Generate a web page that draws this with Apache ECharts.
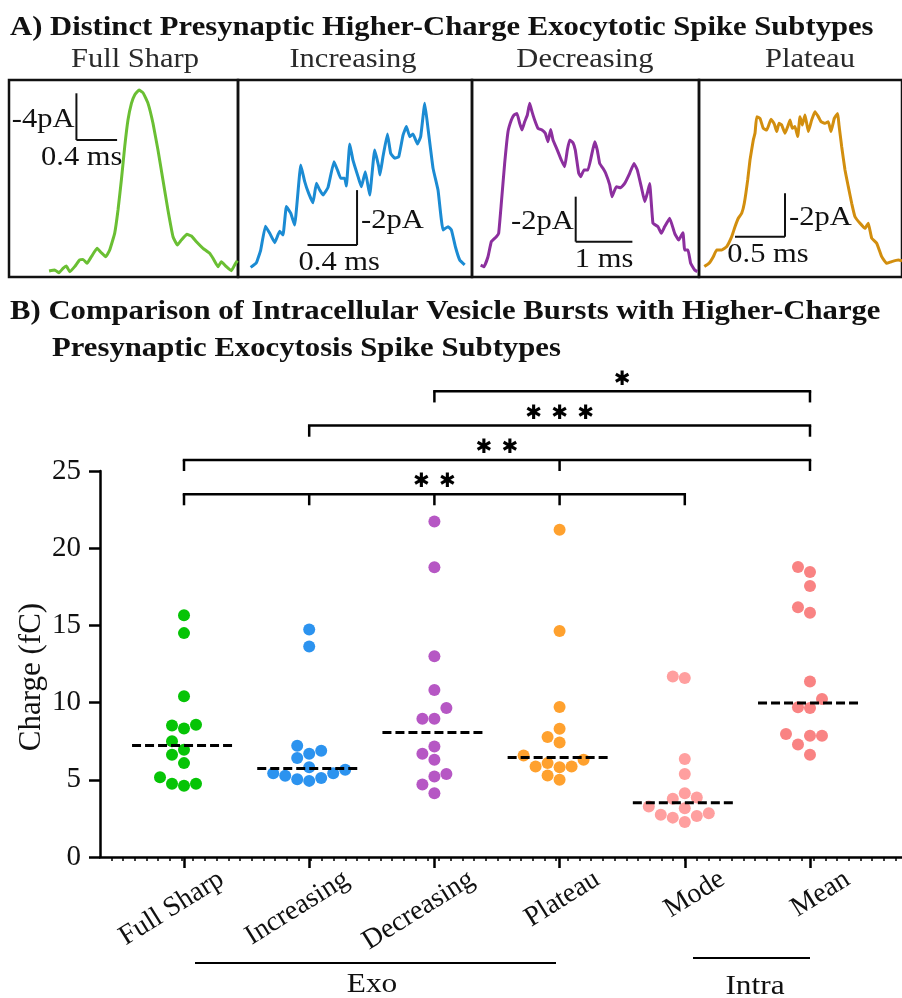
<!DOCTYPE html>
<html><head><meta charset="utf-8">
<script src="https://cdn.jsdelivr.net/npm/echarts@6/dist/echarts.min.js"></script>
<style>html,body{margin:0;padding:0;background:#fff}#c{width:902px;height:998px}</style>
</head><body><div id="c"></div>
<script>
// ---------- Panel A: example traces (time in ms from box left, current in pA, inward plotted up) ----------
const fullSharpTraceT = [0.394,0.449,0.492,0.531,0.564,0.597,0.646,0.695,0.728,0.767,0.810,0.866,0.908,0.951,0.990,1.039,1.072,1.105,1.138,1.170,1.204,1.236,1.278,1.318,1.367,1.416,1.465,1.514,1.563,1.613,1.656,1.695,1.750,1.794,1.843,1.908,1.973,2.006,2.055,2.088,2.138,2.187,2.219,2.246];
const fullSharpTraceI = [0.51,0.60,0.37,0.74,0.94,0.46,0.89,1.46,1.51,1.17,1.74,2.46,2.08,1.74,2.31,3.74,5.74,8.31,11.17,13.45,14.88,15.60,16.02,15.79,14.88,13.17,10.88,8.31,5.74,3.45,2.74,3.17,3.66,3.51,3.02,2.46,2.03,1.60,0.88,1.31,0.88,0.54,1.03,1.40];

const increasingTraceT = [0.102,0.148,0.183,0.221,0.256,0.296,0.336,0.363,0.390,0.425,0.457,0.506,0.538,0.570,0.605,0.632,0.659,0.686,0.726,0.774,0.802,0.828,0.860,0.874,0.901,0.927,0.968,0.995,1.027,1.062,1.102,1.135,1.145,1.169,1.205,1.231,1.264,1.296,1.331,1.358,1.385,1.411,1.447,1.473,1.506,1.532,1.573,1.613,1.653,1.694,1.721,1.753,1.788,1.828];
const increasingTraceI = [0.35,0.52,0.98,1.85,1.59,1.25,1.66,1.53,2.56,2.32,1.89,4.07,3.47,3.04,2.70,3.41,3.16,2.98,3.26,4.19,3.89,3.59,3.59,3.31,4.84,4.25,3.65,3.28,3.83,2.98,4.62,4.01,3.71,4.37,5.20,4.50,4.32,4.37,5.16,5.47,5.10,5.20,4.84,5.10,6.32,5.41,3.95,3.16,1.71,1.83,1.71,1.10,0.62,0.44];

const decreasingTraceT = [0.153,0.212,0.282,0.341,0.429,0.470,0.517,0.576,0.635,0.694,0.741,0.794,0.841,0.882,0.929,0.976,1.017,1.058,1.105,1.164,1.235,1.293,1.340,1.388,1.429,1.505,1.575,1.635,1.681,1.723,1.781,1.822,1.882,1.917,1.975,2.046,2.104,2.164,2.210,2.252,2.310,2.358,2.429,2.469,2.545,2.623,2.693,2.781,2.857,2.915,2.986,3.046,3.092,3.134,3.192,3.280,3.339,3.399,3.487,3.575,3.646,3.721,3.751,3.810,3.857,3.928,3.974];
const decreasingTraceI = [0.53,0.46,0.90,1.57,1.79,1.94,3.27,5.05,6.46,6.98,7.20,7.27,6.83,6.53,6.90,7.20,7.72,7.35,6.98,6.61,6.53,6.39,6.01,6.56,6.09,5.64,5.20,4.90,5.64,6.09,5.97,5.64,4.61,4.46,4.76,4.76,5.35,6.01,5.64,5.05,4.83,4.61,4.09,3.57,4.01,3.97,4.16,4.61,5.05,4.76,4.01,3.35,3.72,4.16,2.39,2.24,1.94,2.24,2.61,1.94,1.64,1.97,1.20,1.20,0.61,0.31,0.24];

const plateauTraceT = [0.053,0.100,0.143,0.177,0.227,0.277,0.327,0.360,0.393,0.427,0.453,0.487,0.510,0.543,0.560,0.577,0.610,0.643,0.677,0.720,0.753,0.777,0.800,0.827,0.860,0.887,0.910,0.933,0.960,0.987,1.010,1.033,1.060,1.093,1.127,1.160,1.193,1.220,1.260,1.293,1.320,1.353,1.387,1.400,1.427,1.460,1.493,1.527,1.560,1.610,1.660,1.693,1.727,1.777,1.827,1.877,1.927,1.993,2.030];
const plateauTraceI = [0.48,0.63,0.94,1.25,1.25,1.40,1.86,2.32,2.71,2.94,3.40,4.48,5.40,6.32,6.63,7.40,7.32,6.86,6.78,7.28,7.06,6.71,7.09,7.01,6.63,6.94,7.25,6.86,6.94,6.48,7.40,7.01,7.48,6.71,7.25,7.63,7.40,7.17,7.09,7.17,6.71,7.32,7.55,7.01,6.01,4.94,4.17,3.40,2.78,2.48,2.25,2.48,1.79,1.56,0.94,0.63,0.71,0.78,0.75];

const traceTitles = ['Full Sharp','Increasing','Decreasing','Plateau'];

// ---------- Panel B: charge per spike (fC) ----------
const categories = ['Full Sharp','Increasing','Decreasing','Plateau','Mode','Mean'];
const fullSharp  = [15.65,14.5,10.41,8.51,8.57,8.33,7.49,6.95,6.62,6.08,5.17,4.61,4.74,4.74];
const increasing = [14.74,13.64,7.21,6.88,6.69,6.41,5.82,5.65,5.43,5.26,5.11,5.43,5.04,4.93];
const decreasing = [21.73,18.77,13.0,10.82,9.65,8.96,8.96,7.16,6.69,6.30,5.37,5.22,4.70,4.13];
const plateau    = [21.19,14.63,9.72,8.31,7.77,7.42,6.58,6.30,6.08,5.86,5.86,5.82,5.28,5.0];
const mode       = [11.69,11.60,6.34,5.37,4.13,3.85,3.77,3.27,3.16,2.84,2.73,2.66,2.55,2.27];
const mean       = [18.79,18.46,17.55,16.17,15.82,11.36,10.24,9.70,9.65,7.97,7.86,7.86,7.29,6.62];
const yTicks = [0,5,10,15,20,25];
// significance comparisons (category indices)
const comparisons = [
  {from:0, to:4, ticks:[0,1,2,3,4], stars:2},
  {from:0, to:5, ticks:[0,3,5], stars:2},
  {from:1, to:5, ticks:[1,5], stars:3},
  {from:2, to:5, ticks:[2,5], stars:1}
];

// ---------- styling / layout ----------
const SERIF = '"Liberation Serif", "Times New Roman", serif';
const traceColors = ['#6abf33','#1b8bd3','#8c2f9e','#d28e0e'];
const dotColors = ['#06c406','#2c93ef','#b657c4','#ffa12e','#ff9f9f','#f98383'];
const panelA = [
  {left:9,   width:229, tMax:2.252, iMax:16.88, titleX:135},
  {left:238, width:234, tMax:1.887, iMax:7.164, titleX:353},
  {left:472, width:227, tMax:4.004, iMax:8.756, titleX:585},
  {left:699, width:203, tMax:2.030, iMax:9.091, titleX:810}
];
const scaleBars = [
  {t:0.663, i:11.74, dt:0.4, di:4, side:'left',  vText:'-4pA', hText:'0.4 ms', hdx:-15},
  {t:0.960, i:1.16,  dt:0.4, di:2, side:'right', vText:'-2pA', hText:'0.4 ms', hdx:7},
  {t:1.829, i:1.57,  dt:1,   di:2, side:'left',  vText:'-2pA', hText:'1 ms',   hdx:0},
  {t:0.860, i:1.86,  dt:0.5, di:2, side:'right', vText:'-2pA', hText:'0.5 ms', hdx:8}
];
const traceT = [fullSharpTraceT, increasingTraceT, decreasingTraceT, plateauTraceT];
const traceI = [fullSharpTraceI, increasingTraceI, decreasingTraceI, plateauTraceI];
const groups = [fullSharp, increasing, decreasing, plateau, mode, mean];

const gridB = {left:100, top:471, width:802, height:386};
const xMin = 0.329, xMax = 6.735;
const xPx = gridB.width/(xMax-xMin);
const yPx = gridB.height/(25-0);
const labelShift = 0.30;

function zip(a,b){const n=Math.min(a.length,b.length);const r=[];for(let k=0;k<n;k++)r.push([a[k],b[k]]);return r;}
function median(arr){const s=arr.slice().sort((a,b)=>a-b);const n=s.length;return n%2?s[(n-1)/2]:(s[n/2-1]+s[n/2])/2;}
// simple beeswarm: horizontal pixel offsets so dots don't overlap
function swarm(values, D, step){
  const order = values.map((v,i)=>i).sort((a,b)=>values[a]-values[b]);
  const placed=[]; const off=new Array(values.length).fill(0);
  for(const i of order){
    const y=values[i]*yPx;
    for(let k=0;k<20;k++){
      const cands=k===0?[0]:[-k,k];
      let found=null;
      for(const c of cands){
        const x=c*step;
        if(placed.every(p=>(p.x-x)*(p.x-x)+(p.y-y)*(p.y-y)>=D*D*0.96)){found=x;break;}
      }
      if(found!==null){off[i]=found;placed.push({x:found,y});break;}
    }
  }
  return off;
}

const grids=[]; const xAxes=[]; const yAxes=[]; const series=[];
panelA.forEach((p,k)=>{
  grids.push({left:p.left, top:80, width:p.width, height:197, show:true, borderColor:'#111', borderWidth:2.5, backgroundColor:'transparent'});
  xAxes.push({gridIndex:k, type:'value', min:0, max:p.tMax, show:false});
  yAxes.push({gridIndex:k, type:'value', min:0, max:p.iMax, show:false});
  series.push({type:'line', xAxisIndex:k, yAxisIndex:k, data:zip(traceT[k],traceI[k]), showSymbol:false, symbol:'none',
    lineStyle:{color:traceColors[k], width:3}, smooth:0.1, clip:false, silent:true, z:3});
  const sb=scaleBars[k];
  series.push({type:'custom', xAxisIndex:k, yAxisIndex:k, data:[[sb.t, sb.i]], clip:false, silent:true, z:4,
    renderItem:function(params, api){
      const c=api.coord([sb.t,sb.i]);
      const top=api.coord([sb.t,sb.i+sb.di]);
      const other=api.coord([sb.side==='left'?sb.t+sb.dt:sb.t-sb.dt, sb.i]);
      const st={stroke:'#111', lineWidth:2};
      const hMid=(c[0]+other[0])/2;
      return {type:'group', children:[
        {type:'line', shape:{x1:c[0],y1:top[1],x2:c[0],y2:c[1]}, style:st},
        {type:'line', shape:{x1:c[0],y1:c[1],x2:other[0],y2:c[1]}, style:st},
        {type:'text', x: sb.side==='left'? c[0]-2 : c[0]+4, y:(top[1]+c[1])/2+3, scaleX:1.13,
          style:{text:sb.vText, fill:'#111', font:'27px '+SERIF, align: sb.side==='left'?'right':'left', verticalAlign:'middle'}},
        {type:'text', x:hMid+sb.hdx, y:c[1]+18, scaleX:1.13,
          style:{text:sb.hText, fill:'#111', font:'27px '+SERIF, align:'center', verticalAlign:'middle'}}
      ]};
    }});
});

// Panel B grid & axes
grids.push({left:gridB.left, top:gridB.top, width:gridB.width, height:gridB.height, show:false});
const catVals = categories.map((c,i)=>i+1);
xAxes.push({gridIndex:4, type:'value', min:xMin, max:xMax, position:'bottom',
  axisLine:{show:true, onZero:false, lineStyle:{color:'#000', width:2.5}},
  axisTick:{show:true, customValues:catVals, length:11, lineStyle:{color:'#000', width:2.5}},
  axisLabel:{show:false}, splitLine:{show:false}});
xAxes.push({gridIndex:4, type:'value', min:xMin-labelShift, max:xMax-labelShift, position:'bottom',
  axisLine:{show:false}, axisTick:{show:false}, splitLine:{show:false},
  axisLabel:{show:true, customValues:catVals, formatter:v=>categories[Math.round(v)-1], rotate:32, margin:20,
    fontFamily:SERIF, fontSize:28, color:'#111'}});
const minorVals=[]; for(let v=xMin+0.09; v<xMax; v+=0.0935) minorVals.push(v);
xAxes.push({gridIndex:4, type:'value', min:xMin, max:xMax, position:'bottom',
  axisLine:{show:false}, axisLabel:{show:false}, splitLine:{show:false},
  axisTick:{show:true, customValues:minorVals, length:4, lineStyle:{color:'#000', width:1.5}}});
yAxes.push({gridIndex:4, type:'value', min:yTicks[0], max:yTicks[yTicks.length-1], interval:5,
  axisLine:{show:true, onZero:false, lineStyle:{color:'#000', width:2.5}},
  axisTick:{show:true, length:11, lineStyle:{color:'#000', width:2.5}},
  axisLabel:{fontFamily:SERIF, fontSize:29, color:'#111', margin:19},
  splitLine:{show:false}});

groups.forEach((vals,g)=>{
  const off=swarm(vals, 12, 12);
  series.push({type:'scatter', xAxisIndex:4, yAxisIndex:4, symbol:'circle', symbolSize:12,
    itemStyle:{color:dotColors[g], opacity:1}, silent:true, z:2,
    data: vals.map((v,j)=>[g+1+off[j]/xPx, v])});
});
series.push({type:'custom', xAxisIndex:4, yAxisIndex:4, silent:true, z:5,
  data: groups.map((vals,g)=>[g+1, median(vals)]),
  renderItem:function(params, api){
    const c=api.value(0), m=api.value(1);
    const a=api.coord([c-0.415,m]), b=api.coord([c+0.415,m]);
    return {type:'line', shape:{x1:a[0],y1:a[1],x2:b[0],y2:b[1]}, style:{stroke:'#000', lineWidth:3, lineDash:[9,4]}};
  }});
const bracketBase=23.5, bracketStep=2.22, bracketTick=0.72;
series.push({type:'custom', xAxisIndex:4, yAxisIndex:4, silent:true, clip:false, z:6,
  encode:{x:[0,1], y:2},
  data: comparisons.map((c,k)=>[c.from+1, c.to+1, bracketBase+k*bracketStep]),
  renderItem:function(params, api){
    const cmp=comparisons[params.dataIndex];
    const yl=api.value(2);
    const pL=api.coord([cmp.from+1,yl]), pR=api.coord([cmp.to+1,yl]);
    const st={stroke:'#000', lineWidth:2.5};
    const ch=[{type:'line', shape:{x1:pL[0]-1.25,y1:pL[1],x2:pR[0]+1.25,y2:pR[1]}, style:st}];
    cmp.ticks.forEach(t=>{
      const a=api.coord([t+1,yl]), b=api.coord([t+1,yl-bracketTick]);
      ch.push({type:'line', shape:{x1:a[0],y1:a[1],x2:b[0],y2:b[1]}, style:st});
    });
    const cx=(pL[0]+pR[0])/2;
    for(let j=0;j<cmp.stars;j++){
      ch.push({type:'text', x:cx+(j-(cmp.stars-1)/2)*26, y:pL[1]-12,
        style:{text:'\u2731', fill:'#000', font:'20px "DejaVu Sans"', align:'center', verticalAlign:'middle'}});
    }
    return {type:'group', children:ch};
  }});

const graphic=[
  {type:'text', x:10, y:28, scaleX:1.095, style:{text:'A) Distinct Presynaptic Higher-Charge Exocytotic Spike Subtypes', font:'bold 28px '+SERIF, fill:'#111', verticalAlign:'middle'}},
  {type:'text', x:10, y:312, scaleX:1.097, style:{text:'B) Comparison of Intracellular Vesicle Bursts with Higher-Charge', font:'bold 28px '+SERIF, fill:'#111', verticalAlign:'middle'}},
  {type:'text', x:52, y:349, scaleX:1.097, style:{text:'Presynaptic Exocytosis Spike Subtypes', font:'bold 28px '+SERIF, fill:'#111', verticalAlign:'middle'}},
  {type:'text', x:32, y:677, rotation:Math.PI/2, style:{text:'Charge (fC)', font:'31px '+SERIF, fill:'#111', align:'center', verticalAlign:'middle'}},
  {type:'line', shape:{x1:195,y1:963,x2:556,y2:963}, style:{stroke:'#000', lineWidth:2}},
  {type:'line', shape:{x1:693,y1:958,x2:810,y2:958}, style:{stroke:'#000', lineWidth:2}},
  {type:'text', x:372, y:985, scaleX:1.12, style:{text:'Exo', font:'28px '+SERIF, fill:'#111', align:'center', verticalAlign:'middle'}},
  {type:'text', x:755, y:987, scaleX:1.12, style:{text:'Intra', font:'28px '+SERIF, fill:'#111', align:'center', verticalAlign:'middle'}}
];
panelA.forEach((p,k)=>graphic.push({type:'text', x:p.titleX, y:60, scaleX:1.09, style:{text:traceTitles[k], font:'28px '+SERIF, fill:'#2a2a2a', align:'center', verticalAlign:'middle'}}));

const chart=echarts.init(document.getElementById('c'), null, {renderer:'canvas', width:902, height:998});
chart.setOption({animation:false, backgroundColor:'#fff', grid:grids, xAxis:xAxes, yAxis:yAxes, series, graphic});
</script></body></html>
